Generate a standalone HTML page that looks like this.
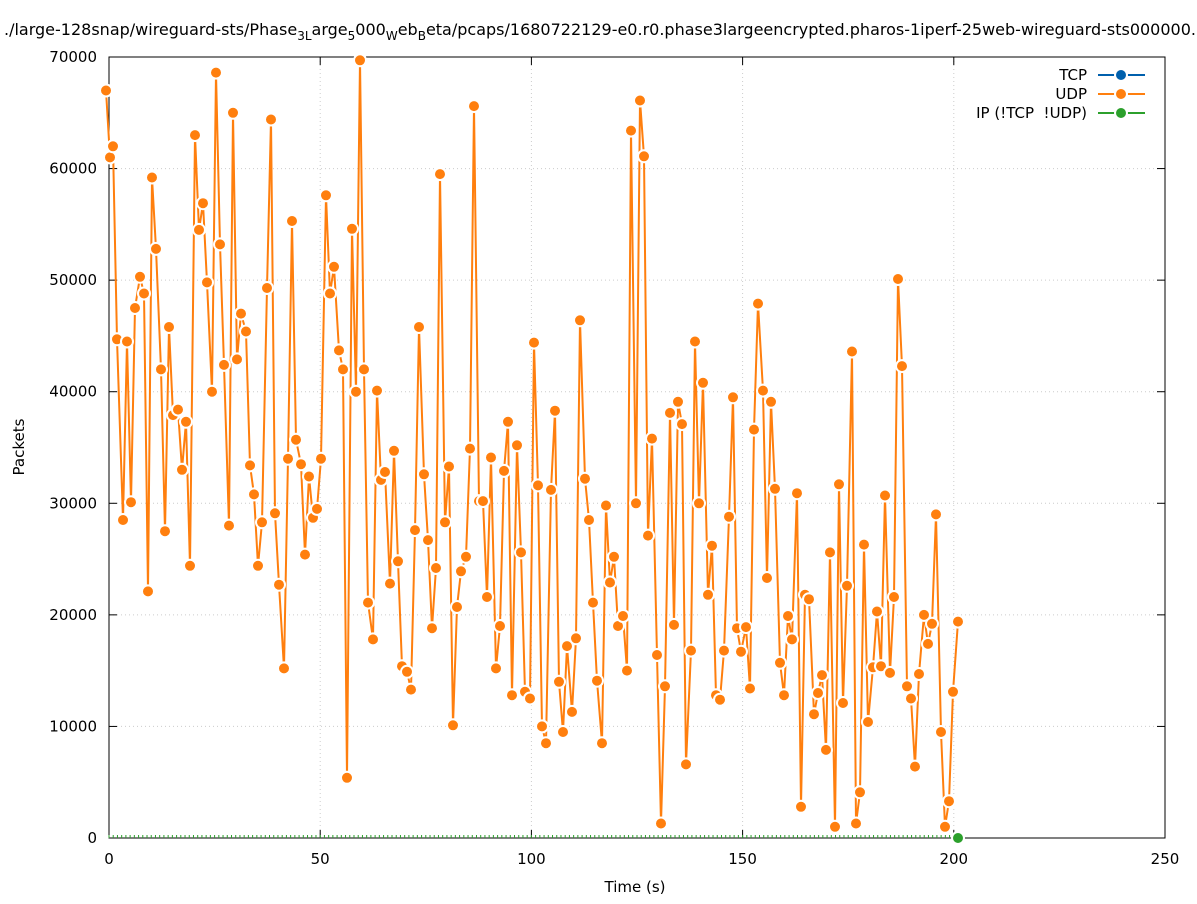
<!DOCTYPE html>
<html><head><meta charset="utf-8"><style>
body{margin:0;background:#fff;font-family:"DejaVu Sans","Liberation Sans",sans-serif;}
svg text{font-family:"DejaVu Sans","Liberation Sans",sans-serif;fill:#000;}
</style></head><body>
<svg id="c" width="1197" height="900" xmlns="http://www.w3.org/2000/svg"></svg>
<script>
const s=document.getElementById('c');let h='';
const X0=109,X1=1165,Y0=838,Y1=57;
const yp=v=>Y0-(v/70000)*(Y0-Y1);
const xp=t=>X0+t/250*(X1-X0);
for(let i=0;i<=7;i++){const y=yp(i*10000);
 if(i>0&&i<7)h+=`<line x1="${X0}" y1="${y}" x2="${X1}" y2="${y}" stroke="#ccc" stroke-dasharray="1,3"/>`;
 h+=`<line x1="${X0}" y1="${y}" x2="${X0+8}" y2="${y}" stroke="#000"/><line x1="${X1}" y1="${y}" x2="${X1-8}" y2="${y}" stroke="#000"/>`;
 h+=`<text x="${X0-12}" y="${y+5}" font-size="15" text-anchor="end">${i*10000}</text>`;}
for(let i=0;i<=5;i++){const x=xp(i*50);
 if(i>0&&i<5)h+=`<line x1="${x}" y1="${Y1}" x2="${x}" y2="${Y0}" stroke="#ccc" stroke-dasharray="1,3"/>`;
 h+=`<line x1="${x}" y1="${Y0}" x2="${x}" y2="${Y0-8}" stroke="#000"/><line x1="${x}" y1="${Y1}" x2="${x}" y2="${Y1+8}" stroke="#000"/>`;
 h+=`<text x="${x}" y="${Y0+26}" font-size="15" text-anchor="middle">${i*50}</text>`;}
h+=`<rect x="${X0}" y="${Y1}" width="${X1-X0}" height="${Y0-Y1}" fill="none" stroke="#000"/>`;
h+=`<text x="635" y="892" font-size="15" text-anchor="middle">Time (s)</text>`;
h+=`<text x="24" y="447" font-size="15" text-anchor="middle" transform="rotate(-90 24 447)">Packets</text>`;
h+=`<text x="600" y="35" font-size="16" text-anchor="middle">./large-128snap/wireguard-sts/Phase<tspan font-size="12" dy="5">3L</tspan><tspan dy="-5">arge</tspan><tspan font-size="12" dy="5">5</tspan><tspan dy="-5">000</tspan><tspan font-size="12" dy="5">W</tspan><tspan dy="-5">eb</tspan><tspan font-size="12" dy="5">B</tspan><tspan dy="-5">eta/pcaps/1680722129-e0.r0.phase3largeencrypted.pharos-1iperf-25web-wireguard-sts000000.</tspan></text>`;
const d=[[106,67000],[110,61000],[113,62000],[117,44700],[123,28500],[127,44500],[131,30100],[135,47500],[140,50300],[144,48800],[148,22100],[152,59200],[156,52800],[161,42000],[165,27500],[169,45800],[173,37900],[178,38400],[182,33000],[186,37300],[190,24400],[195,63000],[199,54500],[203,56900],[207,49800],[212,40000],[216,68600],[220,53200],[224,42400],[229,28000],[233,65000],[237,42900],[241,47000],[246,45400],[250,33400],[254,30800],[258,24400],[262,28300],[267,49300],[271,64400],[275,29100],[279,22700],[284,15200],[288,34000],[292,55300],[296,35700],[301,33500],[305,25400],[309,32400],[313,28700],[317,29500],[321,34000],[326,57600],[330,48800],[334,51200],[339,43700],[343,42000],[347,5400],[352,54600],[356,40000],[360,69700],[364,42000],[368,21100],[373,17800],[377,40100],[381,32100],[385,32800],[390,22800],[394,34700],[398,24800],[402,15400],[407,14900],[411,13300],[415,27600],[419,45800],[424,32600],[428,26700],[432,18800],[436,24200],[440,59500],[445,28300],[449,33300],[453,10100],[457,20700],[461,23900],[466,25200],[470,34900],[474,65600],[479,30200],[483,30200],[487,21600],[491,34100],[496,15200],[500,19000],[504,32900],[508,37300],[512,12800],[517,35200],[521,25600],[525,13100],[530,12500],[534,44400],[538,31600],[542,10000],[546,8500],[551,31200],[555,38300],[559,14000],[563,9500],[567,17200],[572,11300],[576,17900],[580,46400],[585,32200],[589,28500],[593,21100],[597,14100],[602,8500],[606,29800],[610,22900],[614,25200],[618,19000],[623,19900],[627,15000],[631,63400],[636,30000],[640,66100],[644,61100],[648,27100],[652,35800],[657,16400],[661,1300],[665,13600],[670,38100],[674,19100],[678,39100],[682,37100],[686,6600],[691,16800],[695,44500],[699,30000],[703,40800],[708,21800],[712,26200],[716,12800],[720,12400],[724,16800],[729,28800],[733,39500],[737,18800],[741,16700],[746,18900],[750,13400],[754,36600],[758,47900],[763,40100],[767,23300],[771,39100],[775,31300],[780,15700],[784,12800],[788,19900],[792,17800],[797,30900],[801,2800],[805,21800],[809,21400],[814,11100],[818,13000],[822,14600],[826,7900],[830,25600],[835,1000],[839,31700],[843,12100],[847,22600],[852,43600],[856,1300],[860,4100],[864,26300],[868,10400],[873,15300],[877,20300],[881,15400],[885,30700],[890,14800],[894,21600],[898,50100],[902,42300],[907,13600],[911,12500],[915,6400],[919,14700],[924,20000],[928,17400],[932,19200],[936,29000],[941,9500],[945,1000],[949,3300],[953,13100],[958,19400]];
let g='';for(let i=0;i<=200;i++){g+=`M${xp(i)},${Y0}v-3`;}
h+=`<path d="${g}" stroke="#2ca02c" stroke-width="1"/>`;
h+=`<polyline fill="none" stroke="#ff7f0e" stroke-width="2" points="${d.map(p=>p[0]+','+yp(p[1]).toFixed(1)).join(' ')}"/>`;
d.forEach(p=>{h+=`<circle cx="${p[0]}" cy="${yp(p[1]).toFixed(1)}" r="6" fill="#ff7f0e" stroke="#fff" stroke-width="2"/>`;});
h+=`<circle cx="958" cy="838" r="6" fill="#2ca02c" stroke="#fff" stroke-width="2"/>`;
const L=[["TCP","#0060ad",75],["UDP","#ff7f0e",94],["IP (!TCP  !UDP)","#2ca02c",113]];
L.forEach(l=>{h+=`<text x="1087" y="${l[2]+5}" font-size="15" text-anchor="end" xml:space="preserve">${l[0]}</text><line x1="1098" y1="${l[2]}" x2="1145" y2="${l[2]}" stroke="${l[1]}" stroke-width="2"/><circle cx="1121" cy="${l[2]}" r="6" fill="${l[1]}" stroke="#fff" stroke-width="2"/>`;});
s.innerHTML=h;
</script>
</body></html>
